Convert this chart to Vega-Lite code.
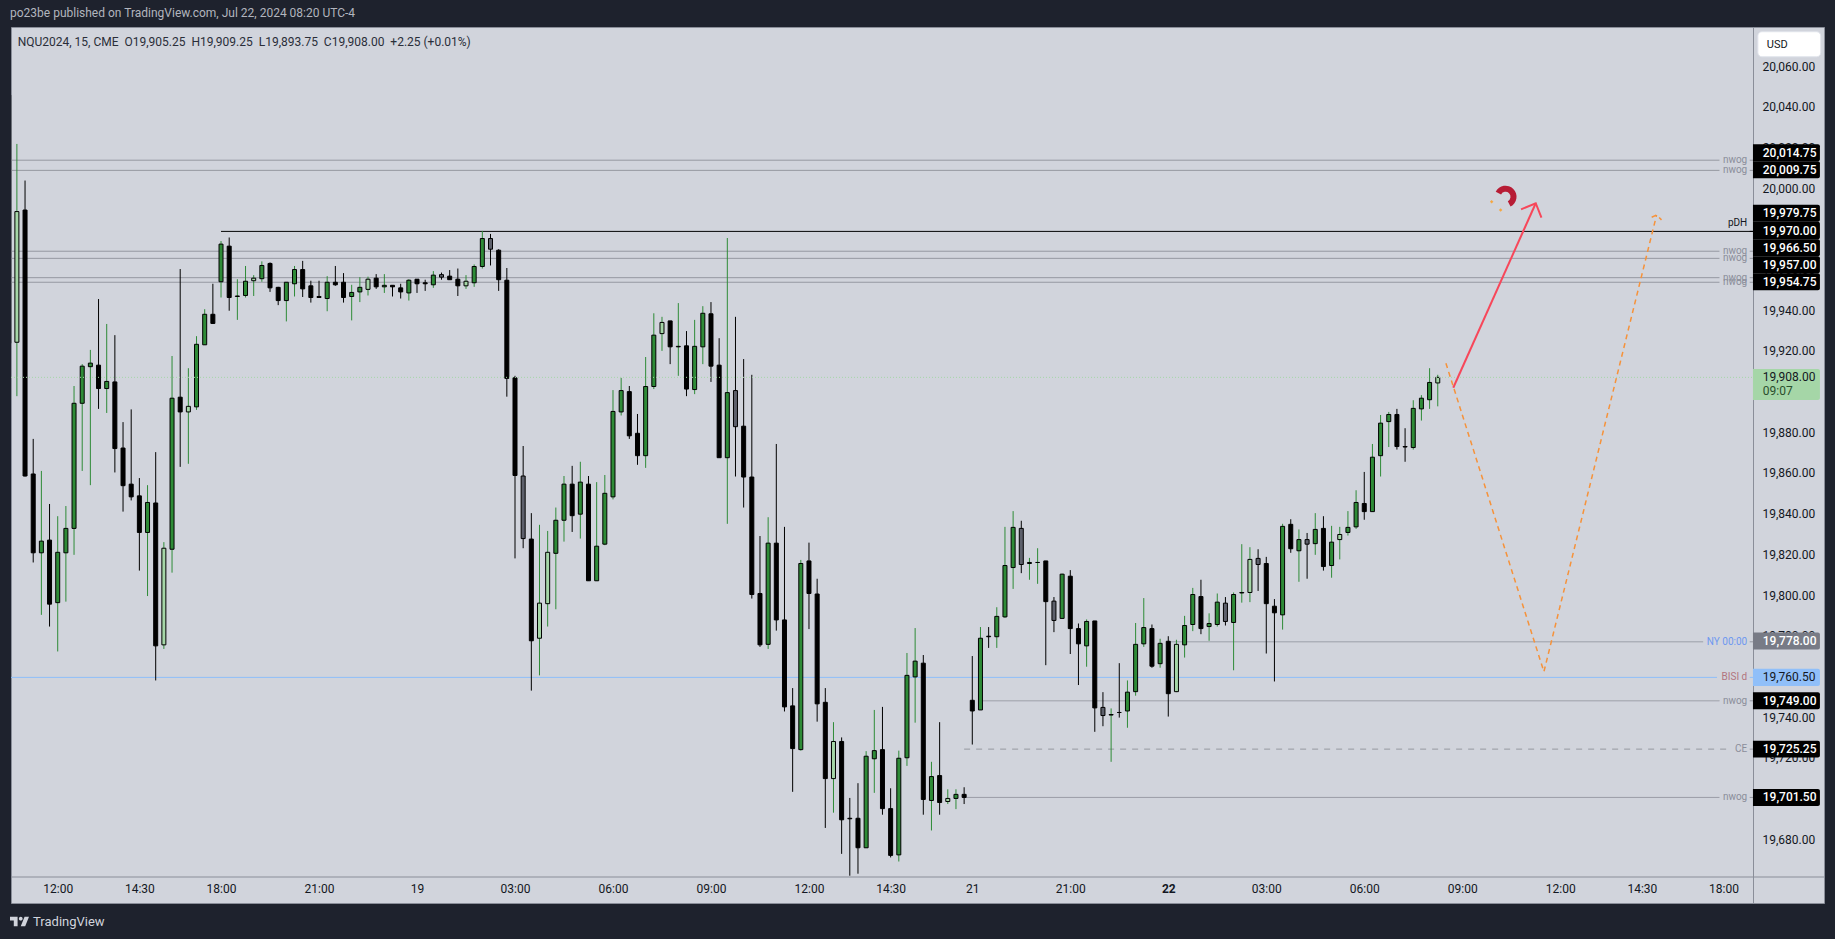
{"$schema":"https://vega.github.io/schema/vega-lite/v6.json","width":1813,"height":876,"autosize":{"type":"none"},"padding":{"left":11,"top":27,"right":11,"bottom":36},"background":"#1e222d","config":{"view":{"fill":"#d1d4dc","stroke":"#8a8e99"},"font":"Roboto"},"title":{"text":"po23be published on TradingView.com, Jul 22, 2024 08:20 UTC-4","anchor":"start","color":"#b2b5be","fontSize":12,"font":"Roboto","fontWeight":"normal","offset":7},
"datasets":{"bars":[
{"i":-6,"o":20046.75,"h":20046.75,"l":19924.75,"c":19924.75,"k":"K"},
{"i":-5,"o":19925.25,"h":20022.75,"l":19898.75,"c":19989.5,"k":"L"},
{"i":-4,"o":19990.25,"h":20004.75,"l":19859.25,"c":19859.5,"k":"K"},
{"i":-3,"o":19860.5,"h":19877.75,"l":19817,"c":19821.75,"k":"K"},
{"i":-2,"o":19821.75,"h":19862,"l":19791.25,"c":19827.5,"k":"G"},
{"i":-1,"o":19828,"h":19845.75,"l":19785.5,"c":19796.5,"k":"K"},
{"i":0,"o":19797.25,"h":19839.75,"l":19773.25,"c":19822,"k":"G"},
{"i":1,"o":19821.75,"h":19844.75,"l":19797.75,"c":19833.75,"k":"G"},
{"i":2,"o":19833.75,"h":19903.75,"l":19820.75,"c":19895.25,"k":"G"},
{"i":3,"o":19895.25,"h":19914.5,"l":19862,"c":19913.5,"k":"G"},
{"i":4,"o":19913.25,"h":19921.5,"l":19855,"c":19915,"k":"G"},
{"i":5,"o":19914,"h":19946.5,"l":19892.5,"c":19902.5,"k":"K"},
{"i":6,"o":19902.5,"h":19934.25,"l":19890.5,"c":19906,"k":"G"},
{"i":7,"o":19905.75,"h":19928.75,"l":19861.25,"c":19873,"k":"K"},
{"i":8,"o":19873.25,"h":19886,"l":19842,"c":19854.75,"k":"K"},
{"i":9,"o":19855.5,"h":19892.25,"l":19847.5,"c":19849.25,"k":"K"},
{"i":10,"o":19849.75,"h":19858.5,"l":19813,"c":19831.75,"k":"K"},
{"i":11,"o":19831.75,"h":19855,"l":19800.5,"c":19846.5,"k":"G"},
{"i":12,"o":19846.25,"h":19871.25,"l":19759,"c":19776,"k":"K"},
{"i":13,"o":19776.5,"h":19827,"l":19774.5,"c":19824,"k":"L"},
{"i":14,"o":19823.5,"h":19918.5,"l":19812,"c":19897.75,"k":"G"},
{"i":15,"o":19898.25,"h":19961.25,"l":19864,"c":19891,"k":"K"},
{"i":16,"o":19891,"h":19912.5,"l":19865.5,"c":19893.75,"k":"L"},
{"i":17,"o":19893.5,"h":19928.25,"l":19892,"c":19924.25,"k":"G"},
{"i":18,"o":19924,"h":19941.5,"l":19924,"c":19939,"k":"G"},
{"i":19,"o":19939,"h":19954,"l":19934.25,"c":19934.5,"k":"K"},
{"i":20,"o":19955,"h":19975,"l":19947.25,"c":19973.5,"k":"G"},
{"i":21,"o":19972.5,"h":19976.75,"l":19940.75,"c":19947.25,"k":"K"},
{"i":22,"o":19947.75,"h":19956.25,"l":19936.25,"c":19948,"k":"G"},
{"i":23,"o":19948.25,"h":19962.75,"l":19947.25,"c":19955.25,"k":"G"},
{"i":24,"o":19955.5,"h":19958.25,"l":19948,"c":19956.75,"k":"L"},
{"i":25,"o":19956.5,"h":19965,"l":19955,"c":19963,"k":"G"},
{"i":26,"o":19964,"h":19964.5,"l":19950,"c":19952,"k":"K"},
{"i":27,"o":19952.25,"h":19952.5,"l":19943.5,"c":19945.75,"k":"K"},
{"i":28,"o":19945.75,"h":19954.75,"l":19935.5,"c":19954.75,"k":"G"},
{"i":29,"o":19954,"h":19962.75,"l":19947.75,"c":19961,"k":"G"},
{"i":30,"o":19961,"h":19965.25,"l":19947.5,"c":19951.5,"k":"K"},
{"i":31,"o":19953,"h":19955.5,"l":19944.75,"c":19947.25,"k":"K"},
{"i":32,"o":19947.75,"h":19955.5,"l":19947.25,"c":19947.25,"k":"K"},
{"i":33,"o":19946.75,"h":19957.75,"l":19940.5,"c":19954.75,"k":"G"},
{"i":34,"o":19954.75,"h":19962.75,"l":19953,"c":19953.5,"k":"K"},
{"i":35,"o":19954.75,"h":19959.25,"l":19944.75,"c":19947.25,"k":"K"},
{"i":36,"o":19947.75,"h":19953.5,"l":19936,"c":19949.75,"k":"G"},
{"i":37,"o":19950,"h":19957.25,"l":19945,"c":19952.25,"k":"G"},
{"i":38,"o":19951.25,"h":19957.5,"l":19948.25,"c":19956.25,"k":"L"},
{"i":39,"o":19956.75,"h":19958.75,"l":19951.5,"c":19952.5,"k":"K"},
{"i":40,"o":19952.5,"h":19958.75,"l":19949.5,"c":19953.25,"k":"G"},
{"i":41,"o":19953.25,"h":19953.25,"l":19947.75,"c":19952.5,"k":"K"},
{"i":42,"o":19952,"h":19954,"l":19946.75,"c":19950,"k":"K"},
{"i":43,"o":19949.5,"h":19956.25,"l":19945.75,"c":19955.75,"k":"G"},
{"i":44,"o":19956.25,"h":19956.25,"l":19949.5,"c":19954,"k":"K"},
{"i":45,"o":19954.5,"h":19956,"l":19950.5,"c":19954,"k":"K"},
{"i":46,"o":19953.5,"h":19960.25,"l":19952,"c":19958.25,"k":"G"},
{"i":47,"o":19958.5,"h":19959.5,"l":19956,"c":19957.25,"k":"D"},
{"i":48,"o":19957.75,"h":19960.75,"l":19956,"c":19956,"k":"K"},
{"i":49,"o":19956.25,"h":19961.5,"l":19948,"c":19953,"k":"K"},
{"i":50,"o":19953,"h":19958.25,"l":19951.5,"c":19955.25,"k":"L"},
{"i":51,"o":19954.5,"h":19963.5,"l":19952.5,"c":19962.5,"k":"G"},
{"i":52,"o":19962.5,"h":19980,"l":19961.5,"c":19976.25,"k":"G"},
{"i":53,"o":19976.25,"h":19978.5,"l":19963,"c":19971,"k":"D"},
{"i":54,"o":19970.5,"h":19971,"l":19950.5,"c":19956,"k":"K"},
{"i":55,"o":19955.75,"h":19961.75,"l":19898.5,"c":19907.5,"k":"K"},
{"i":56,"o":19907.75,"h":19908.75,"l":19819,"c":19859.75,"k":"K"},
{"i":57,"o":19859.5,"h":19874.25,"l":19824,"c":19828.75,"k":"D"},
{"i":58,"o":19828.5,"h":19841.25,"l":19754,"c":19778.5,"k":"K"},
{"i":59,"o":19779.75,"h":19835.5,"l":19761.5,"c":19797,"k":"L"},
{"i":60,"o":19796.75,"h":19832.5,"l":19785.5,"c":19822,"k":"L"},
{"i":61,"o":19821.5,"h":19844,"l":19794,"c":19837.75,"k":"G"},
{"i":62,"o":19837.75,"h":19859.5,"l":19827.25,"c":19855.5,"k":"G"},
{"i":63,"o":19855.5,"h":19864.5,"l":19832,"c":19840,"k":"K"},
{"i":64,"o":19840.75,"h":19866.5,"l":19828.75,"c":19856.5,"k":"G"},
{"i":65,"o":19855.5,"h":19859.5,"l":19808,"c":19808,"k":"K"},
{"i":66,"o":19808,"h":19856.5,"l":19808,"c":19825,"k":"G"},
{"i":67,"o":19826,"h":19860,"l":19825.5,"c":19851,"k":"G"},
{"i":68,"o":19849.25,"h":19901.75,"l":19848,"c":19891.25,"k":"G"},
{"i":69,"o":19891,"h":19907.75,"l":19889.25,"c":19901.5,"k":"G"},
{"i":70,"o":19901,"h":19903.75,"l":19877.75,"c":19879.25,"k":"K"},
{"i":71,"o":19880.5,"h":19890,"l":19865,"c":19869.5,"k":"K"},
{"i":72,"o":19869.5,"h":19918,"l":19863.5,"c":19903.5,"k":"G"},
{"i":73,"o":19903.5,"h":19939.5,"l":19902.25,"c":19928.75,"k":"G"},
{"i":74,"o":19929.5,"h":19937.75,"l":19921,"c":19935,"k":"L"},
{"i":75,"o":19935.75,"h":19935.75,"l":19914.5,"c":19923,"k":"K"},
{"i":76,"o":19923,"h":19944.5,"l":19908.75,"c":19923.25,"k":"G"},
{"i":77,"o":19923.5,"h":19930.75,"l":19898.75,"c":19902.25,"k":"K"},
{"i":78,"o":19902,"h":19936.25,"l":19899.75,"c":19923.25,"k":"G"},
{"i":79,"o":19923,"h":19943,"l":19914.5,"c":19939.5,"k":"G"},
{"i":80,"o":19939.25,"h":19945,"l":19905.75,"c":19913.5,"k":"K"},
{"i":81,"o":19914,"h":19927.25,"l":19868.5,"c":19868.5,"k":"K"},
{"i":82,"o":19868.5,"h":19976.5,"l":19836,"c":19900.5,"k":"G"},
{"i":83,"o":19901.5,"h":19937.75,"l":19859.25,"c":19883.75,"k":"D"},
{"i":84,"o":19884,"h":19917,"l":19844,"c":19859,"k":"K"},
{"i":85,"o":19859,"h":19909.25,"l":19799.25,"c":19801.25,"k":"K"},
{"i":86,"o":19801.75,"h":19830,"l":19775.5,"c":19776.5,"k":"K"},
{"i":87,"o":19776.75,"h":19839.25,"l":19774.5,"c":19826.5,"k":"G"},
{"i":88,"o":19826.5,"h":19875.25,"l":19783.5,"c":19788.75,"k":"K"},
{"i":89,"o":19788.75,"h":19834.5,"l":19743.75,"c":19746,"k":"K"},
{"i":90,"o":19746.5,"h":19755.25,"l":19704.25,"c":19725.5,"k":"K"},
{"i":91,"o":19725,"h":19818.25,"l":19724.5,"c":19816.5,"k":"G"},
{"i":92,"o":19817.75,"h":19826.75,"l":19784.25,"c":19801.75,"k":"K"},
{"i":93,"o":19801.5,"h":19809,"l":19738.75,"c":19747.5,"k":"K"},
{"i":94,"o":19748.25,"h":19755.25,"l":19686.5,"c":19710.75,"k":"K"},
{"i":95,"o":19710.75,"h":19738.5,"l":19694,"c":19729,"k":"L"},
{"i":96,"o":19729,"h":19731,"l":19673.75,"c":19690.5,"k":"K"},
{"i":97,"o":19691.25,"h":19701.25,"l":19663,"c":19691,"k":"K"},
{"i":98,"o":19691.25,"h":19708.5,"l":19664,"c":19676.75,"k":"K"},
{"i":99,"o":19676.75,"h":19724.25,"l":19676.75,"c":19721.75,"k":"G"},
{"i":100,"o":19720.5,"h":19744.5,"l":19703.75,"c":19724.5,"k":"G"},
{"i":101,"o":19725,"h":19746,"l":19693,"c":19696,"k":"K"},
{"i":102,"o":19696,"h":19706,"l":19672,"c":19673,"k":"K"},
{"i":103,"o":19673.25,"h":19724.5,"l":19670,"c":19720.75,"k":"G"},
{"i":104,"o":19721,"h":19772.5,"l":19717,"c":19761.5,"k":"G"},
{"i":105,"o":19760.75,"h":19784.75,"l":19738.25,"c":19768.5,"k":"G"},
{"i":106,"o":19767.5,"h":19771.5,"l":19693,"c":19700.5,"k":"K"},
{"i":107,"o":19700,"h":19719,"l":19685.25,"c":19711.75,"k":"G"},
{"i":108,"o":19712.25,"h":19738.5,"l":19693,"c":19699,"k":"K"},
{"i":109,"o":19699.5,"h":19705.5,"l":19698.25,"c":19701,"k":"L"},
{"i":110,"o":19701,"h":19705.5,"l":19695.75,"c":19703,"k":"G"},
{"i":111,"o":19703,"h":19706.5,"l":19698.25,"c":19701.5,"k":"K"},
{"i":112,"o":19749.25,"h":19771,"l":19727.5,"c":19744,"k":"K"},
{"i":113,"o":19744.5,"h":19785.25,"l":19744.5,"c":19779.75,"k":"G"},
{"i":114,"o":19780.75,"h":19785.25,"l":19775,"c":19780.5,"k":"K"},
{"i":115,"o":19780.5,"h":19795,"l":19775,"c":19790.5,"k":"G"},
{"i":116,"o":19790.25,"h":19834.5,"l":19789.75,"c":19815.5,"k":"G"},
{"i":117,"o":19814.5,"h":19842.25,"l":19804,"c":19834.25,"k":"G"},
{"i":118,"o":19833.75,"h":19837.5,"l":19811.75,"c":19816,"k":"D"},
{"i":119,"o":19816.5,"h":19819.25,"l":19808.5,"c":19817,"k":"G"},
{"i":120,"o":19817,"h":19824,"l":19806.5,"c":19817,"k":"G"},
{"i":121,"o":19817.75,"h":19817.75,"l":19766.5,"c":19797.75,"k":"K"},
{"i":122,"o":19798,"h":19800,"l":19782.75,"c":19788.5,"k":"D"},
{"i":123,"o":19789.5,"h":19811.5,"l":19789.5,"c":19811.25,"k":"G"},
{"i":124,"o":19810.25,"h":19813.25,"l":19772,"c":19784.5,"k":"K"},
{"i":125,"o":19784.5,"h":19787,"l":19756.75,"c":19777,"k":"K"},
{"i":126,"o":19776,"h":19789,"l":19765.75,"c":19788,"k":"G"},
{"i":127,"o":19788.25,"h":19788.25,"l":19733.75,"c":19745.5,"k":"K"},
{"i":128,"o":19745.75,"h":19753.25,"l":19736.5,"c":19741.75,"k":"D"},
{"i":129,"o":19742,"h":19745.25,"l":19719,"c":19742.25,"k":"G"},
{"i":130,"o":19743.25,"h":19767.5,"l":19740.75,"c":19743.25,"k":"K"},
{"i":131,"o":19744,"h":19759,"l":19735.75,"c":19753.25,"k":"G"},
{"i":132,"o":19753.5,"h":19787.25,"l":19751.5,"c":19776.75,"k":"G"},
{"i":133,"o":19777,"h":19799.5,"l":19775.5,"c":19785,"k":"G"},
{"i":134,"o":19784.5,"h":19786.5,"l":19765.25,"c":19766,"k":"K"},
{"i":135,"o":19767.25,"h":19779.5,"l":19765.25,"c":19777.25,"k":"G"},
{"i":136,"o":19778.25,"h":19780.75,"l":19741.25,"c":19752.5,"k":"K"},
{"i":137,"o":19753.5,"h":19779,"l":19753.25,"c":19776.75,"k":"L"},
{"i":138,"o":19776.5,"h":19790.75,"l":19770.25,"c":19786,"k":"G"},
{"i":139,"o":19786.5,"h":19804.5,"l":19783.25,"c":19801.25,"k":"G"},
{"i":140,"o":19800.25,"h":19808.5,"l":19781.75,"c":19784.5,"k":"K"},
{"i":141,"o":19785.5,"h":19792,"l":19778.5,"c":19787,"k":"G"},
{"i":142,"o":19786.5,"h":19801.75,"l":19785.5,"c":19797.5,"k":"G"},
{"i":143,"o":19797,"h":19800,"l":19786,"c":19788,"k":"D"},
{"i":144,"o":19787.5,"h":19802.25,"l":19764,"c":19801.25,"k":"G"},
{"i":145,"o":19802,"h":19826,"l":19797.25,"c":19802.25,"k":"G"},
{"i":146,"o":19802.25,"h":19824.5,"l":19797.5,"c":19818.5,"k":"L"},
{"i":147,"o":19819,"h":19823.5,"l":19803,"c":19816,"k":"D"},
{"i":148,"o":19816.5,"h":19819.75,"l":19772.25,"c":19796.75,"k":"K"},
{"i":149,"o":19795.5,"h":19799,"l":19758.5,"c":19792.25,"k":"K"},
{"i":150,"o":19791.25,"h":19836,"l":19784,"c":19834.75,"k":"G"},
{"i":151,"o":19835.75,"h":19838.25,"l":19821.75,"c":19823.75,"k":"K"},
{"i":152,"o":19822.75,"h":19833.25,"l":19807.5,"c":19828.25,"k":"G"},
{"i":153,"o":19828.25,"h":19831.5,"l":19809,"c":19826,"k":"D"},
{"i":154,"o":19826.25,"h":19841.25,"l":19820.75,"c":19833.25,"k":"G"},
{"i":155,"o":19833.75,"h":19839.75,"l":19813,"c":19815,"k":"K"},
{"i":156,"o":19815.5,"h":19835,"l":19809.5,"c":19827,"k":"G"},
{"i":157,"o":19828.25,"h":19834.5,"l":19818.5,"c":19830.75,"k":"L"},
{"i":158,"o":19831.75,"h":19842.25,"l":19830.25,"c":19834.25,"k":"G"},
{"i":159,"o":19834.5,"h":19852.5,"l":19833.5,"c":19846.5,"k":"G"},
{"i":160,"o":19846,"h":19861.5,"l":19838,"c":19842,"k":"K"},
{"i":161,"o":19842,"h":19875.25,"l":19842,"c":19868.75,"k":"G"},
{"i":162,"o":19869.5,"h":19889.5,"l":19859.25,"c":19885.5,"k":"G"},
{"i":163,"o":19886.25,"h":19891,"l":19873.75,"c":19889.75,"k":"G"},
{"i":164,"o":19889.75,"h":19892.5,"l":19872.5,"c":19874,"k":"K"},
{"i":165,"o":19874,"h":19883,"l":19866.5,"c":19873.75,"k":"K"},
{"i":166,"o":19873.5,"h":19896.75,"l":19872.5,"c":19892.75,"k":"G"},
{"i":167,"o":19892.5,"h":19899.25,"l":19886.75,"c":19897.75,"k":"G"},
{"i":168,"o":19897,"h":19912.5,"l":19892.5,"c":19905.5,"k":"G"},
{"i":169,"o":19905.25,"h":19909.25,"l":19893.75,"c":19908,"k":"L"}
],
"levels":[
{"price":20014.75,"from":-5.72,"to":203.5,"label":"nwog","kind":"nwog"},
{"price":20009.75,"from":-5.72,"to":203.5,"label":"nwog","kind":"nwog"},
{"price":19979.75,"from":20,"to":207.6,"label":"pDH","kind":"pDH"},
{"price":19970,"from":-5.72,"to":203.5,"label":"nwog","kind":"nwog"},
{"price":19966.5,"from":-5.72,"to":203.5,"label":"nwog","kind":"nwog"},
{"price":19957,"from":-5.72,"to":203.5,"label":"nwog","kind":"nwog"},
{"price":19954.75,"from":-5.72,"to":203.5,"label":"nwog","kind":"nwog"},
{"price":19778,"from":136,"to":201.5,"label":"NY 00:00","kind":"ny"},
{"price":19760.5,"from":-5.72,"to":203.2,"label":"BISI d","kind":"bisi"},
{"price":19749,"from":113,"to":203.5,"label":"nwog","kind":"nwog"},
{"price":19725.25,"from":111,"to":204.6,"label":"CE","kind":"ce"},
{"price":19701.5,"from":111,"to":203.5,"label":"nwog","kind":"nwog"}
],
"tags":[
{"label":"20,014.75","shown":20018.4,"top":20022.6,"bot":20014.2,"kind":"black"},
{"label":"20,009.75","shown":20010.1,"top":20014.2,"bot":20005.9,"kind":"black"},
{"label":"19,979.75","shown":19988.65,"top":19992.8,"bot":19984.5,"kind":"black"},
{"label":"19,970.00","shown":19980.1,"top":19984.5,"bot":19975.9,"kind":"black"},
{"label":"19,966.50","shown":19971.7,"top":19975.9,"bot":19967.5,"kind":"black"},
{"label":"19,957.00","shown":19963.4,"top":19967.5,"bot":19959.2,"kind":"black"},
{"label":"19,954.75","shown":19955,"top":19959.2,"bot":19950.8,"kind":"black"},
{"label":"19,908.00","shown":19908.3,"top":19912.1,"bot":19896.9,"kind":"green"},
{"label":"19,778.00","shown":19778.4,"top":19782.6,"bot":19774.2,"kind":"gray"},
{"label":"19,760.50","shown":19760.5,"top":19764.7,"bot":19756.3,"kind":"blue"},
{"label":"19,749.00","shown":19749,"top":19753.2,"bot":19744.8,"kind":"black"},
{"label":"19,725.25","shown":19725.25,"top":19729.4,"bot":19721.1,"kind":"black"},
{"label":"19,701.50","shown":19701.5,"top":19705.7,"bot":19697.3,"kind":"black"}
],
"drawings":[
{"s":"red1","n":0,"i":170.9,"p":19902.9},{"s":"red1","n":1,"i":181,"p":19993.6},
{"s":"red2","n":0,"i":179.2,"p":19990.6},{"s":"red2","n":1,"i":181,"p":19993.6},{"s":"red2","n":2,"i":181.7,"p":19986.5},
{"s":"or1","n":0,"i":170,"p":19914.9},{"s":"or1","n":1,"i":182,"p":19763.3},{"s":"or1","n":2,"i":195.8,"p":19987.8},
{"s":"or2","n":0,"i":195.2,"p":19986.7},{"s":"or2","n":1,"i":195.8,"p":19987.8},{"s":"or2","n":2,"i":196.4,"p":19985.4}
]},
"layer":[
{"data":{"name":"levels"},"mark":{"type":"rule","strokeWidth":1},"encoding":{
"x":{"field":"from","type":"quantitative","title":null,"scale":{"domain":[-5.72,216.3],"nice":false,"zero":false,"padding":0},"axis":{"orient":"bottom","offset":-26.5,"values":[0,10,20,32,44,56,68,80,92,102,112,124,136,148,160,172,184,194,204],"labelExpr":"{'0':'12:00','10':'14:30','20':'18:00','32':'21:00','44':'19','56':'03:00','68':'06:00','80':'09:00','92':'12:00','102':'14:30','112':'21','124':'21:00','136':'22','148':'03:00','160':'06:00','172':'09:00','184':'12:00','194':'14:30','204':'18:00'}[''+datum.value]","labelFontWeight":{"expr":"datum.value==136?'bold':'normal'"},"ticks":false,"grid":false,"title":null,"labelPadding":7,"labelColor":"#131722","labelFontSize":12,"labelFont":"Roboto","labelOverlap":false,"labelFlush":false,"domainColor":"#8a8e99","domainWidth":1}},
"x2":{"field":"to"},
"y":{"field":"price","type":"quantitative","title":null,"scale":{"domain":[19649.6,20080.23],"nice":false,"zero":false},"axis":{"orient":"right","offset":-71,"values":[20060,20040,20020,20000,19980,19960,19940,19920,19900,19880,19860,19840,19820,19800,19780,19760,19740,19720,19700,19680],"format":",.2f","ticks":false,"grid":false,"title":null,"labelPadding":9,"labelOffset":-2,"labelColor":"#131722","labelFontSize":12,"labelFont":"Roboto","labelOverlap":false,"labelFlush":false,"domainColor":"#8a8e99","domainWidth":1}},
"stroke":{"field":"kind","type":"nominal","legend":null,"scale":{"domain":["nwog","pDH","ny","bisi","ce"],"range":["#9598a1","#000000","#9598a1","#90bff9","#9598a1"]}},
"strokeDash":{"field":"kind","type":"nominal","legend":null,"scale":{"domain":["nwog","pDH","ny","bisi","ce"],"range":[[1,0],[1,0],[1,0],[1,0],[6,6]]}}}},
{"data":{"name":"levels"},"mark":{"type":"rule","strokeWidth":1},"encoding":{
"x":{"datum":207.2,"type":"quantitative","title":null,"scale":{"domain":[-5.72,216.3],"nice":false,"zero":false,"padding":0}},"x2":{"datum":207.6},
"y":{"field":"price","type":"quantitative","title":null,"scale":{"domain":[19649.6,20080.23],"nice":false,"zero":false}},
"stroke":{"field":"kind","type":"nominal","legend":null,"scale":{"domain":["nwog","pDH","ny","bisi","ce"],"range":["#9598a1","#000000","#9598a1","#90bff9","#9598a1"]}}}},
{"data":{"name":"levels"},"transform":[{"filter":"datum.kind!='pDH'"}],"mark":{"type":"text","align":"right","baseline":"middle","fontSize":10,"font":"Roboto"},"encoding":{
"x":{"datum":206.9,"type":"quantitative","title":null,"scale":{"domain":[-5.72,216.3],"nice":false,"zero":false,"padding":0}},
"y":{"field":"price","type":"quantitative","title":null,"scale":{"domain":[19649.6,20080.23],"nice":false,"zero":false}},
"text":{"field":"label"},
"fill":{"field":"kind","type":"nominal","legend":null,"scale":{"domain":["nwog","ny","bisi","ce"],"range":["#8b8e9a","#6e98f0","#b2747f","#8b8e9a"]}}}},
{"data":{"name":"levels"},"transform":[{"filter":"datum.kind=='pDH'"}],"mark":{"type":"text","align":"right","baseline":"middle","fontSize":10,"font":"Roboto","dy":-8,"fill":"#131722"},"encoding":{
"x":{"datum":206.9,"type":"quantitative","title":null,"scale":{"domain":[-5.72,216.3],"nice":false,"zero":false,"padding":0}},
"y":{"field":"price","type":"quantitative","title":null,"scale":{"domain":[19649.6,20080.23],"nice":false,"zero":false}},
"text":{"field":"label"}}},
{"data":{"name":"bars"},"mark":{"type":"rule","strokeWidth":1,"clip":true},"encoding":{
"x":{"field":"i","type":"quantitative","title":null,"scale":{"domain":[-5.72,216.3],"nice":false,"zero":false,"padding":0}},
"y":{"field":"h","type":"quantitative","title":null,"scale":{"domain":[19649.6,20080.23],"nice":false,"zero":false}},"y2":{"field":"l"},
"stroke":{"field":"k","type":"nominal","legend":null,"scale":{"domain":["G","L","K","D"],"range":["#2e8b37","#2e8b37","#000000","#000000"]}}}},
{"data":{"name":"bars"},"mark":{"type":"bar","size":4,"stroke":"#000000","strokeWidth":1,"clip":true},"encoding":{
"x":{"field":"i","type":"quantitative","title":null,"scale":{"domain":[-5.72,216.3],"nice":false,"zero":false,"padding":0}},
"y":{"field":"o","type":"quantitative","title":null,"scale":{"domain":[19649.6,20080.23],"nice":false,"zero":false}},"y2":{"field":"c"},
"fill":{"field":"k","type":"nominal","legend":null,"scale":{"domain":["G","L","K","D"],"range":["#2e8b37","#a5d6a7","#000000","#5d606b"]}}}},
{"data":{"values":[{"price":19908}]},"mark":{"type":"rule","stroke":"#a5d6a7","strokeWidth":1,"strokeDash":[1,2]},"encoding":{
"x":{"datum":-5.72,"type":"quantitative","title":null,"scale":{"domain":[-5.72,216.3],"nice":false,"zero":false,"padding":0}},"x2":{"datum":207.6},
"y":{"field":"price","type":"quantitative","title":null,"scale":{"domain":[19649.6,20080.23],"nice":false,"zero":false}}}},
{"data":{"name":"drawings"},"transform":[{"filter":"datum.s=='red1'||datum.s=='red2'"}],"mark":{"type":"line","stroke":"#f7475a","strokeWidth":2},"encoding":{
"x":{"field":"i","type":"quantitative","title":null,"scale":{"domain":[-5.72,216.3],"nice":false,"zero":false,"padding":0}},"y":{"field":"p","type":"quantitative","title":null,"scale":{"domain":[19649.6,20080.23],"nice":false,"zero":false}},"detail":{"field":"s"},"order":{"field":"n"}}},
{"data":{"name":"drawings"},"transform":[{"filter":"datum.s=='or1'||datum.s=='or2'"}],"mark":{"type":"line","stroke":"#f6923a","strokeWidth":1.5,"strokeDash":[5,4]},"encoding":{
"x":{"field":"i","type":"quantitative","title":null,"scale":{"domain":[-5.72,216.3],"nice":false,"zero":false,"padding":0}},"y":{"field":"p","type":"quantitative","title":null,"scale":{"domain":[19649.6,20080.23],"nice":false,"zero":false}},"detail":{"field":"s"},"order":{"field":"n"}}},
{"data":{"values":[{"i":177.3,"p":19996.8}]},"mark":{"type":"arc","innerRadius":5,"outerRadius":11,"theta":-1.1,"theta2":2.67,"fill":"#b71c35"},"encoding":{
"x":{"field":"i","type":"quantitative","title":null,"scale":{"domain":[-5.72,216.3],"nice":false,"zero":false,"padding":0}},"y":{"field":"p","type":"quantitative","title":null,"scale":{"domain":[19649.6,20080.23],"nice":false,"zero":false}}}},
{"data":{"values":[{"i":175.6,"p":19994.3},{"i":176.7,"p":19990.3}]},"mark":{"type":"point","shape":"diamond","filled":true,"fill":"#f5a742","size":12,"opacity":1},"encoding":{
"x":{"field":"i","type":"quantitative","title":null,"scale":{"domain":[-5.72,216.3],"nice":false,"zero":false,"padding":0}},"y":{"field":"p","type":"quantitative","title":null,"scale":{"domain":[19649.6,20080.23],"nice":false,"zero":false}}}},
{"data":{"name":"tags"},"mark":{"type":"rect","cornerRadiusTopRight":2,"cornerRadiusBottomRight":2},"encoding":{
"x":{"datum":207.6,"type":"quantitative","title":null,"scale":{"domain":[-5.72,216.3],"nice":false,"zero":false,"padding":0}},"x2":{"datum":215.8},
"y":{"field":"top","type":"quantitative","title":null,"scale":{"domain":[19649.6,20080.23],"nice":false,"zero":false}},"y2":{"field":"bot"},
"fill":{"field":"kind","type":"nominal","legend":null,"scale":{"domain":["black","gray","blue","green"],"range":["#000000","#787b86","#90bff9","#a5d6a7"]}}}},
{"data":{"name":"tags"},"transform":[{"filter":"datum.kind=='black'||datum.kind=='gray'"}],"mark":{"type":"text","align":"left","baseline":"middle","fontSize":12,"fontWeight":500,"font":"Roboto","fill":"#ffffff"},"encoding":{
"x":{"datum":208.8,"type":"quantitative","title":null,"scale":{"domain":[-5.72,216.3],"nice":false,"zero":false,"padding":0}},
"y":{"field":"shown","type":"quantitative","title":null,"scale":{"domain":[19649.6,20080.23],"nice":false,"zero":false}},
"text":{"field":"label"}}},
{"data":{"name":"tags"},"transform":[{"filter":"datum.kind=='blue'||datum.kind=='green'"}],"mark":{"type":"text","align":"left","baseline":"middle","fontSize":12,"font":"Roboto","fill":"#131722"},"encoding":{
"x":{"datum":208.8,"type":"quantitative","title":null,"scale":{"domain":[-5.72,216.3],"nice":false,"zero":false,"padding":0}},
"y":{"field":"shown","type":"quantitative","title":null,"scale":{"domain":[19649.6,20080.23],"nice":false,"zero":false}},
"text":{"field":"label"}}},
{"data":{"values":[{"label":"09:07","i":208.8,"p":19901.4}]},"mark":{"type":"text","align":"left","baseline":"middle","fontSize":12,"font":"Roboto","fill":"#2a4f2d"},"encoding":{
"x":{"field":"i","type":"quantitative","title":null,"scale":{"domain":[-5.72,216.3],"nice":false,"zero":false,"padding":0}},"y":{"field":"p","type":"quantitative","title":null,"scale":{"domain":[19649.6,20080.23],"nice":false,"zero":false}},"text":{"field":"label"}}},
{"data":{"values":[{"a":208.2,"b":215.9,"t":20077.9,"u":20065.6}]},"mark":{"type":"rect","fill":"#ffffff","stroke":"#e0e3eb","cornerRadius":4},"encoding":{
"x":{"field":"a","type":"quantitative","title":null,"scale":{"domain":[-5.72,216.3],"nice":false,"zero":false,"padding":0}},"x2":{"field":"b"},"y":{"field":"t","type":"quantitative","title":null,"scale":{"domain":[19649.6,20080.23],"nice":false,"zero":false}},"y2":{"field":"u"}}},
{"data":{"values":[{"label":"USD","i":209.3,"p":20071.5}]},"mark":{"type":"text","align":"left","baseline":"middle","fontSize":11,"font":"Roboto","fill":"#131722"},"encoding":{
"x":{"field":"i","type":"quantitative","title":null,"scale":{"domain":[-5.72,216.3],"nice":false,"zero":false,"padding":0}},"y":{"field":"p","type":"quantitative","title":null,"scale":{"domain":[19649.6,20080.23],"nice":false,"zero":false}},"text":{"field":"label"}}},
{"data":{"values":[{"label":"NQU2024, 15, CME\u00a0\u00a0O19,905.25\u00a0\u00a0H19,909.25\u00a0\u00a0L19,893.75\u00a0\u00a0C19,908.00\u00a0\u00a0+2.25 (+0.01%)","i":-4.9,"p":20073}]},"mark":{"type":"text","align":"left","baseline":"middle","fontSize":12,"font":"Roboto","fill":"#2a2e39"},"encoding":{
"x":{"field":"i","type":"quantitative","title":null,"scale":{"domain":[-5.72,216.3],"nice":false,"zero":false,"padding":0}},"y":{"field":"p","type":"quantitative","title":null,"scale":{"domain":[19649.6,20080.23],"nice":false,"zero":false}},"text":{"field":"label"}}},
{"data":{"values":[{"label":"TradingView","i":-3.02,"p":19640.5}]},"mark":{"type":"text","align":"left","baseline":"middle","fontSize":13,"font":"Roboto","fill":"#d1d4dc"},"encoding":{
"x":{"field":"i","type":"quantitative","title":null,"scale":{"domain":[-5.72,216.3],"nice":false,"zero":false,"padding":0}},"y":{"field":"p","type":"quantitative","title":null,"scale":{"domain":[19649.6,20080.23],"nice":false,"zero":false}},"text":{"field":"label"}}},
{"data":{"values":[{"i":-4.68,"p":19640.5}]},"mark":{"type":"point","shape":"M-.2 -.5 L-1 -.5 L-1 -.1 L-.6 -.1 L-.6 .5 L-.2 .5Z M.6 .5 L.133 .5 L.533 -.5 L1 -.5Z M.133 -.5 A.2 .2 0 1 0 .133 -.1 A.2 .2 0 1 0 .133 -.5Z","filled":true,"fill":"#d1d4dc","size":361,"opacity":1},"encoding":{
"x":{"field":"i","type":"quantitative","title":null,"scale":{"domain":[-5.72,216.3],"nice":false,"zero":false,"padding":0}},"y":{"field":"p","type":"quantitative","title":null,"scale":{"domain":[19649.6,20080.23],"nice":false,"zero":false}}}}
],
"resolve":{"scale":{"fill":"independent","stroke":"independent","strokeDash":"independent"}}}
